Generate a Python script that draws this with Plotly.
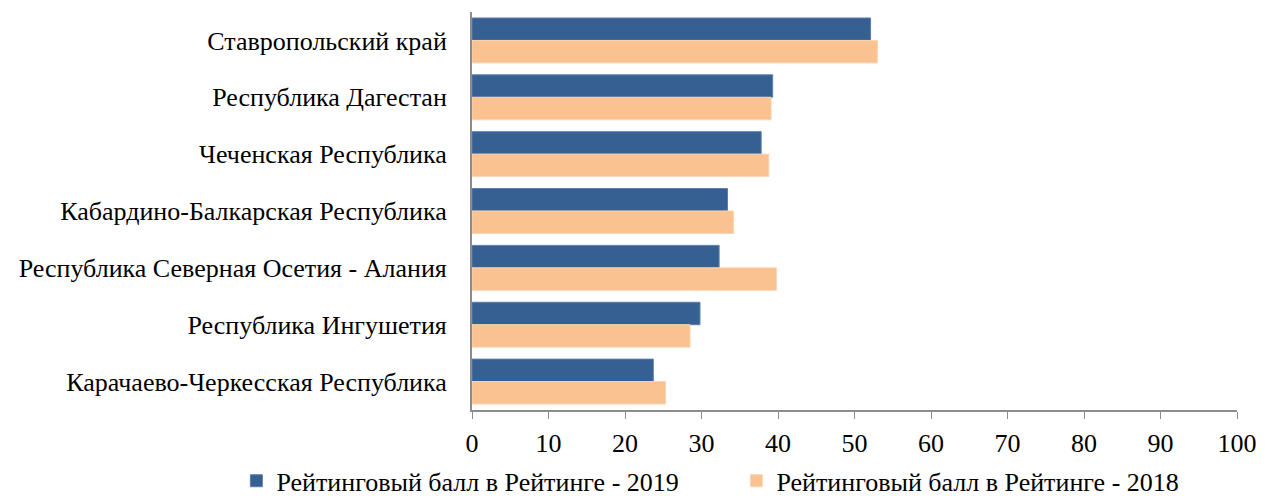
import plotly.graph_objects as go

regions = [
    "Ставропольский край",
    "Республика Дагестан",
    "Чеченская Республика",
    "Кабардино-Балкарская Республика",
    "Республика Северная Осетия - Алания",
    "Республика Ингушетия",
    "Карачаево-Черкесская Республика",
]
score_2019 = [52.1, 39.3, 37.8, 33.4, 32.3, 29.8, 23.7]
score_2018 = [53.0, 39.1, 38.8, 34.2, 39.8, 28.5, 25.3]

font_family = "Liberation Serif"

fig = go.Figure()
fig.add_trace(go.Bar(y=regions, x=score_2019, orientation="h",
                     name="Рейтинговый балл в Рейтинге - 2019",
                     marker=dict(color="#366092", line=dict(color="#5a7fab", width=1))))
fig.add_trace(go.Bar(y=regions, x=score_2018, orientation="h",
                     name="Рейтинговый балл в Рейтинге - 2018",
                     marker=dict(color="#fac191", line=dict(color="#fcd5b4", width=1))))

fig.update_layout(
    width=1272, height=496,
    margin=dict(l=472, r=35, t=12, b=86, autoexpand=False),
    barmode="group", bargap=0.21, bargroupgap=0,
    plot_bgcolor="white", paper_bgcolor="white",
    font=dict(family=font_family, size=26, color="black"),
    legend=dict(orientation="h", x=-0.308, xanchor="left", y=-0.178, yanchor="middle",
                font=dict(size=26), entrywidth=455, entrywidthmode="pixels",
                traceorder="normal"),
    xaxis=dict(range=[0, 100], dtick=10, showgrid=False, zeroline=False,
               showline=True, linecolor="#8c8c8c", linewidth=2,
               ticks="outside", ticklen=7, tickcolor="#8c8c8c", tickwidth=1,
               ticklabelstandoff=2, tickfont=dict(size=26)),
    yaxis=dict(autorange="reversed", showgrid=False, showline=True,
               linecolor="#8c8c8c", linewidth=2, ticks="",
               ticklabelstandoff=18, tickfont=dict(size=26)),
)

# drop the browser's default page margin so the figure starts at the corner
fig.write_html("out.html", config={"displayModeBar": False},
               post_script="document.body.style.margin='0';")
